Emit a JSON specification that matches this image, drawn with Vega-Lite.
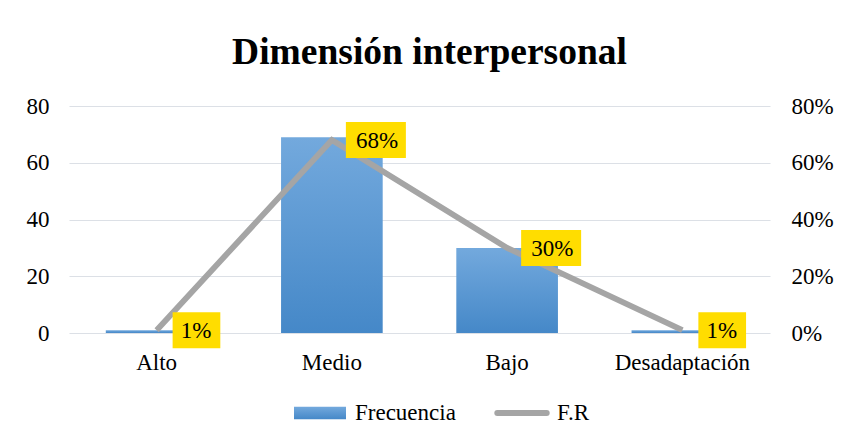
{
  "$schema": "https://vega.github.io/schema/vega-lite/v6.json",
  "width": 701,
  "height": 227,
  "autosize": {"type": "none"},
  "padding": {"left": 69, "top": 106, "right": 71, "bottom": 112},
  "background": "white",
  "config": {
    "font": "Liberation Serif",
    "view": {"stroke": null},
    "axis": {"labelFont": "Liberation Serif", "labelFontSize": 23, "labelColor": "#000000", "domain": false, "ticks": false, "title": null},
    "legend": {"labelFont": "Liberation Serif", "labelFontSize": 23, "labelColor": "#000000"}
  },
  "title": {"text": "Dimensión interpersonal", "font": "Liberation Serif", "fontSize": 37.5, "fontWeight": "bold", "color": "#000000", "anchor": "middle", "dx": 10, "offset": 24},
  "data": {
    "values": [
      {"categoria": "Alto", "frecuencia": 1, "fr": 0.01, "label": "1%"},
      {"categoria": "Medio", "frecuencia": 69, "fr": 0.68, "label": "68%"},
      {"categoria": "Bajo", "frecuencia": 30, "fr": 0.30, "label": "30%"},
      {"categoria": "Desadaptación", "frecuencia": 1, "fr": 0.01, "label": "1%"}
    ]
  },
  "encoding": {
    "x": {"field": "categoria", "type": "nominal", "sort": null,
      "scale": {"paddingInner": 0.42, "paddingOuter": 0.21},
      "axis": {"labelAngle": 0, "labelPadding": 18, "grid": false}}
  },
  "layer": [
    {
      "mark": {"type": "bar", "fill": {"gradient": "linear", "x1": 0, "y1": 0, "x2": 0, "y2": 1, "stops": [{"offset": 0, "color": "#73A9DD"}, {"offset": 1, "color": "#4588C8"}]}},
      "encoding": {
        "y": {"field": "frecuencia", "type": "quantitative", "scale": {"domain": [0, 80]},
          "axis": {"orient": "left", "values": [0, 20, 40, 60, 80], "labelPadding": 20, "grid": true, "gridColor": "#DCE0E6", "gridWidth": 1.2}}
      }
    },
    {
      "encoding": {
        "y": {"field": "fr", "type": "quantitative", "scale": {"domain": [0, 0.8]},
          "axis": {"orient": "right", "values": [0, 0.2, 0.4, 0.6, 0.8], "format": ".0%", "labelPadding": 21, "grid": false}}
      },
      "layer": [
        {
          "mark": {"type": "line", "strokeWidth": 5.8, "strokeCap": "butt", "strokeJoin": "miter"},
          "encoding": {
            "color": {"datum": "F.R", "type": "nominal",
              "scale": {"domain": ["Frecuencia", "F.R"], "range": ["#5B9BD5", "#A5A5A5"]},
              "legend": {
                "title": null, "orient": "none", "direction": "horizontal", "legendX": 222, "legendY": 278,
                "symbolSize": 2704, "symbolStrokeWidth": 6, "labelOffset": 6, "columnPadding": 29,
                "encode": {
                  "symbols": {
                    "update": {
                      "shape": {"signal": "datum.value === 'Frecuencia' ? 'M-1,-0.24H1V0.24H-1Z' : 'M-0.95,0H0.95'"},
                      "fill": {"signal": "datum.value === 'Frecuencia' ? {gradient: 'linear', x1: 0, y1: 0, x2: 0, y2: 1, stops: [{offset: 0, color: '#73A9DD'}, {offset: 1, color: '#4588C8'}]} : 'transparent'"},
                      "stroke": {"value": "#A5A5A5"},
                      "strokeOpacity": {"signal": "datum.value === 'Frecuencia' ? 0 : 1"},
                      "strokeWidth": {"value": 6},
                      "strokeCap": {"value": "round"},
                      "opacity": {"value": 1}
                    }
                  }
                }
              }}
          }
        },
        {
          "mark": {"type": "point", "filled": true, "size": 3600, "opacity": 1, "color": "#FFDD00", "strokeWidth": 0},
          "encoding": {
            "shape": {"field": "label", "type": "nominal", "legend": null,
              "scale": {"domain": ["1%", "68%", "30%"], "range": ["M0.533,-0.6H2.123V0.6H0.533Z", "M0.467,-0.6H2.467V0.6H0.467Z", "M0.467,-0.6H2.467V0.6H0.467Z"]}}
          }
        },
        {
          "mark": {"type": "text", "align": "left", "baseline": "middle", "dx": 24, "dy": 1, "fontSize": 23, "font": "Liberation Serif", "color": "#000000"},
          "encoding": {"text": {"field": "label", "type": "nominal"}}
        }
      ]
    }
  ],
  "resolve": {"scale": {"y": "independent"}}
}
